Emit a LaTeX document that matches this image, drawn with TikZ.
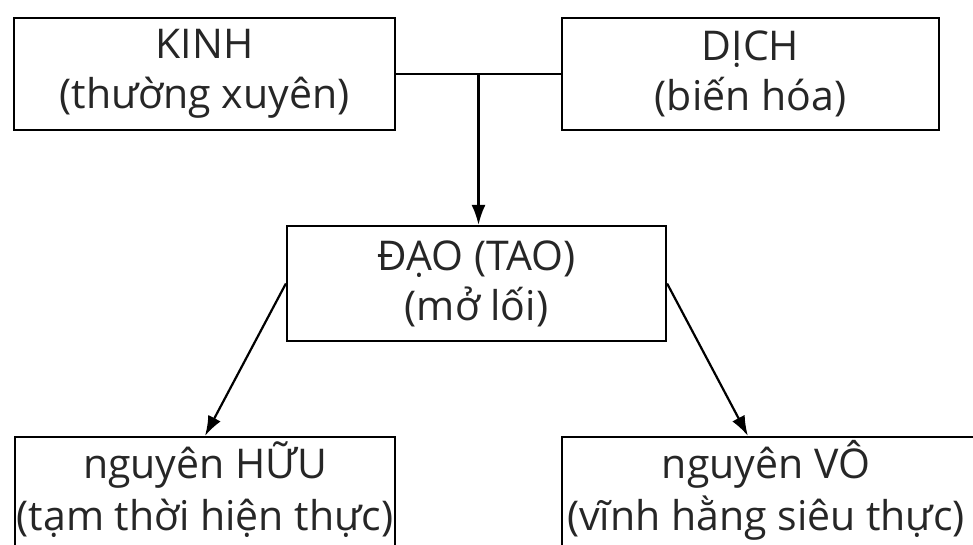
\documentclass[tikz,border=0pt]{standalone}
\usepackage{fontspec}
\setmainfont{Open Sans}
\usetikzlibrary{arrows.meta,calc}
\tikzset{
  box/.style={draw, line width=2.2pt, rectangle, inner sep=0pt, align=center,
    font=\fontsize{41}{50}\selectfont, text=black!85},
  txt/.style={inner sep=0pt, font=\fontsize{41}{50}\selectfont, text=black!85, anchor=base},
  conn/.style={line width=2.2pt},
  arr/.style={conn, -{Latex[length=20pt,width=14pt]}}
}
\begin{document}
\begin{tikzpicture}[x=1pt,y=1pt]
\useasboundingbox (0,0) rectangle (973,-545);
\clip (0,0) rectangle (973,-545);
\fill[white] (0,0) rectangle (973,-545);
\node[box, minimum width=381pt, minimum height=112pt] (kinh) at (204.5,-74) {KINH\\(thường xuyên)};
\node[box, minimum width=377pt, minimum height=112pt] (dich) at (750.5,-74) {DỊCH\\(biến hóa)};
\node[box, minimum width=379pt, minimum height=115pt] (dao) at (476.5,-283.5) {ĐẠO (TAO)\\(mở lối)};
\node[box, minimum width=380pt, minimum height=130pt] (huu) at (205,-502) {};
\node[box, minimum width=440pt, minimum height=130pt] (vo) at (782,-502) {};
\node[txt] (huua) at (205,-478) {nguyên HỮU};
\node[txt] (huub) at (205,-530) {(tạm thời hiện thực)};
\node[txt] (voa) at (766,-478) {nguyên VÔ};
\node[txt] (vob) at (766,-530) {(vĩnh hằng siêu thực)};
\coordinate (j) at ($(kinh.east)!0.5!(dich.west)$);
\coordinate (votop) at ([xshift=187pt]vo.north west);
\draw[conn] (kinh.east) -- (dich.west);
\draw[arr] (j) -- (j |- dao.north);
\draw[arr] (dao.west) -- (huu.north);
\draw[arr] (dao.east) -- (votop);
\end{tikzpicture}
\end{document}
